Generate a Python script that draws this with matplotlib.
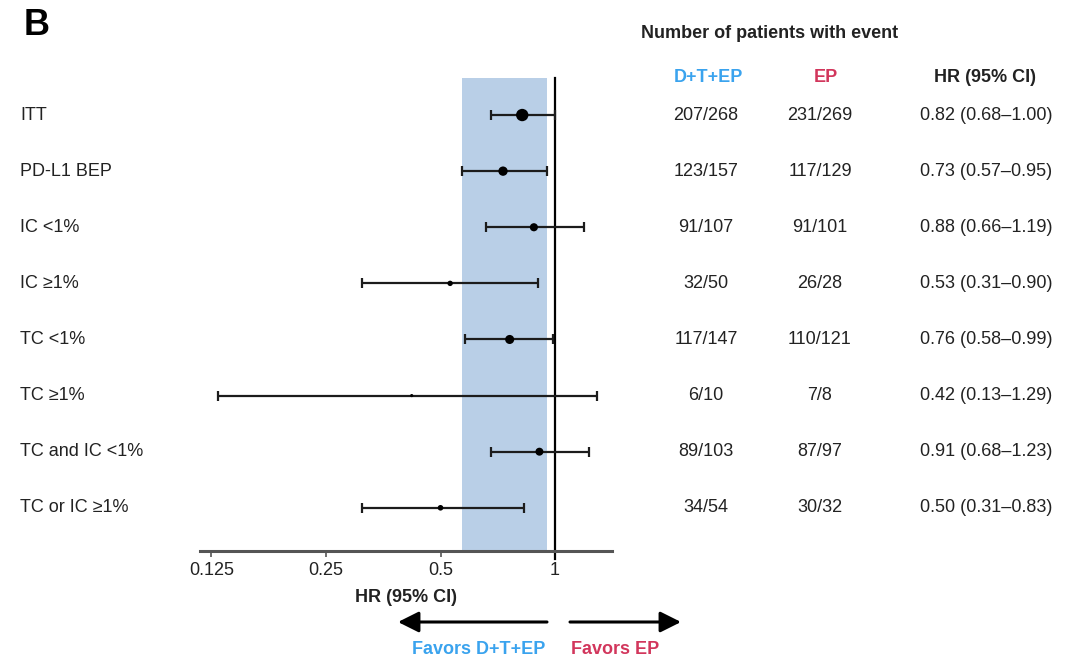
import matplotlib
matplotlib.use("Agg")
import matplotlib.pyplot as plt
import matplotlib.transforms as mtransforms
import numpy as np

plt.rcParams['font.family'] = ['Liberation Sans', 'DejaVu Sans']

# ---- data ----
subgroups = ["ITT", "PD-L1 BEP", "IC <1%", "IC \u22651%", "TC <1%", "TC \u22651%",
             "TC and IC <1%", "TC or IC \u22651%"]
events_dte = ["207/268", "123/157", "91/107", "32/50", "117/147", "6/10", "89/103", "34/54"]
events_ep = ["231/269", "117/129", "91/101", "26/28", "110/121", "7/8", "87/97", "30/32"]
hr = [0.82, 0.73, 0.88, 0.53, 0.76, 0.42, 0.91, 0.50]
ci_low = [0.68, 0.57, 0.66, 0.31, 0.58, 0.13, 0.68, 0.31]
ci_high = [1.00, 0.95, 1.19, 0.90, 0.99, 1.29, 1.23, 0.83]
xticks = [0.125, 0.25, 0.5, 1]
xtick_labels = ["0.125", "0.25", "0.5", "1"]

BLUE = "#3aa3ee"
RED = "#d2365c"
SHADE = "#b9cfe7"
TXT = "#222222"
FS = 13

W, H = 1079, 660
fig = plt.figure(figsize=(W / 100, H / 100), dpi=100)


def fx(px):
    return px / W


def fy(py):
    return 1 - py / H


ax = fig.add_axes([fx(200), fy(551), fx(612) - fx(200), fy(78) - fy(551)])
ax.set_xscale("log", base=2)
ax.set_xlim(0.1166, 1.412)
ax.set_ylim(7.77, -0.66)

rows = np.arange(len(subgroups))
hr_a = np.array(hr)
lo_a = np.array(ci_low)
hi_a = np.array(ci_high)

# shaded band: PD-L1 BEP confidence interval
ax.axvspan(ci_low[1], ci_high[1], color=SHADE, zorder=0, lw=0)

# reference line at HR = 1
ax.axvline(1, ymin=-0.016, ymax=1, color="black", lw=1.6, clip_on=False, zorder=2)

# confidence intervals
ax.errorbar(hr_a, rows, xerr=[hr_a - lo_a, hi_a - hr_a], fmt="none",
            ecolor="#1c1c1c", elinewidth=1.6, capsize=3.8, capthick=1.6, zorder=3)

# point estimates, diameter growing with number of patients
totals = np.array([int(a.split("/")[1]) + int(b.split("/")[1])
                   for a, b in zip(events_dte, events_ep)])
diam = 0.8 + 0.35 * np.sqrt(totals)
ax.scatter(hr_a, rows, s=diam ** 2, color="black", zorder=4, lw=0)

# axes styling
for side in ("left", "right", "top"):
    ax.spines[side].set_visible(False)
ax.spines["bottom"].set_color("#555555")
ax.spines["bottom"].set_linewidth(2.2)
ax.set_yticks([])
ax.set_xticks(xticks)
ax.set_xticklabels(xtick_labels, fontsize=FS, color=TXT)
ax.xaxis.set_minor_locator(matplotlib.ticker.NullLocator())
ax.tick_params(axis="x", length=4, width=1.2, color="#555555", pad=4)

ax.text(0.5, fy(597), "HR (95% CI)",
        transform=mtransforms.blended_transform_factory(ax.transAxes, fig.transFigure),
        ha="center", va="center", fontsize=FS, fontweight="bold", color=TXT)

# row labels and table columns
tr = mtransforms.blended_transform_factory(fig.transFigure, ax.transData)
for i, name in enumerate(subgroups):
    ax.text(fx(20), i, name, transform=tr, ha="left", va="center",
            fontsize=FS, color=TXT, clip_on=False)
    ax.text(fx(706), i, events_dte[i], transform=tr, ha="center", va="center",
            fontsize=FS, color=TXT, clip_on=False)
    ax.text(fx(820), i, events_ep[i], transform=tr, ha="center", va="center",
            fontsize=FS, color=TXT, clip_on=False)
    ax.text(fx(986), i, f"{hr[i]:.2f} ({ci_low[i]:.2f}\u2013{ci_high[i]:.2f})",
            transform=tr, ha="center", va="center", fontsize=FS, color=TXT, clip_on=False)

# headers
fig.text(fx(770), fy(33), "Number of patients with event", ha="center", va="center",
         fontsize=FS, fontweight="bold", color=TXT)
fig.text(fx(708), fy(78), "D+T+EP", ha="center", va="center", fontsize=FS,
         fontweight="bold", color=BLUE)
fig.text(fx(826), fy(78), "EP", ha="center", va="center", fontsize=FS,
         fontweight="bold", color=RED)
fig.text(fx(985), fy(78), "HR (95% CI)", ha="center", va="center", fontsize=FS,
         fontweight="bold", color=TXT)

# panel letter
fig.text(fx(24), fy(35), "B", ha="left", va="baseline", fontsize=26,
         fontweight="bold", color="black")

# direction arrows
arrow_kw = dict(arrowstyle="-|>,head_length=0.9,head_width=0.45", lw=2.2,
                color="black", shrinkA=0, shrinkB=0, mutation_scale=14)
fig.add_artist(matplotlib.patches.FancyArrowPatch((fx(547), fy(622)), (fx(398), fy(622)),
                                                  transform=fig.transFigure, **arrow_kw))
fig.add_artist(matplotlib.patches.FancyArrowPatch((fx(570), fy(622)), (fx(681), fy(622)),
                                                  transform=fig.transFigure, **arrow_kw))
fig.text(fx(479), fy(649), "Favors D+T+EP", ha="center", va="center", fontsize=FS,
         fontweight="bold", color=BLUE)
fig.text(fx(615), fy(649), "Favors EP", ha="center", va="center", fontsize=FS,
         fontweight="bold", color=RED)

fig.savefig("out.png", dpi=100, facecolor="white")
